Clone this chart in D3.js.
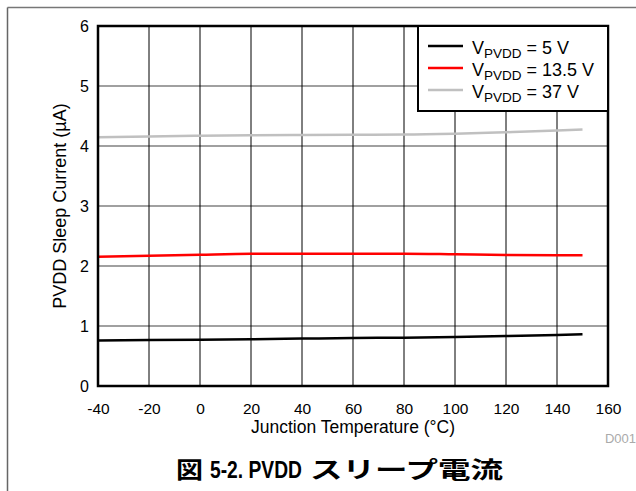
<!DOCTYPE html>
<html><head><meta charset="utf-8">
<script src="https://cdn.jsdelivr.net/npm/d3@7"></script>
<style>body{margin:0;background:#fff}svg{display:block}text{font-family:"Liberation Sans",Arial,sans-serif}</style>
</head><body>
<svg id="c" width="636" height="491"></svg>
<script>
const temps = [-40, -20, 0, 20, 40, 60, 80, 100, 120, 140, 150];
const v5 = [0.76, 0.765, 0.772, 0.78, 0.79, 0.80, 0.806, 0.817, 0.833, 0.85, 0.862];
const v135 = [2.155, 2.17, 2.188, 2.203, 2.205, 2.205, 2.205, 2.195, 2.183, 2.18, 2.18];
const v37 = [4.145, 4.16, 4.17, 4.178, 4.183, 4.187, 4.19, 4.205, 4.23, 4.258, 4.275];
const seriesNames = ["5 V", "13.5 V", "37 V"];
const seriesColors = ["#000000", "#ff0000", "#c0c0c0"];
const xTicks = [-40, -20, 0, 20, 40, 60, 80, 100, 120, 140, 160];
const yTicks = [0, 1, 2, 3, 4, 5, 6];

const svg = d3.select("#c");
const L = 98, R = 608, T = 26, B = 386;
const x = d3.scaleLinear().domain([-40, 160]).range([L, R]);
const y = d3.scaleLinear().domain([0, 6]).range([B, T]);

// outer frame
svg.append("line").attr("x1", 7.5).attr("x2", 636).attr("y1", 7.5).attr("y2", 7.5).attr("stroke", "#777").attr("stroke-width", 1.5);
svg.append("line").attr("x1", 7.5).attr("x2", 7.5).attr("y1", 7.5).attr("y2", 491).attr("stroke", "#666").attr("stroke-width", 1.5);

// grid
svg.append("g").selectAll("line").data(yTicks.slice(1, -1)).join("line")
  .attr("x1", L).attr("x2", R).attr("y1", d => y(d)).attr("y2", d => y(d))
  .attr("stroke", "#808080").attr("stroke-width", 1.5);
svg.append("g").selectAll("line").data(xTicks.slice(1, -1)).join("line")
  .attr("x1", d => x(d)).attr("x2", d => x(d)).attr("y1", T).attr("y2", B)
  .attr("stroke", "#000").attr("stroke-width", 1);

// axes labels via d3 axes
const fmt = d => String(d);
const xAxis = svg.append("g").attr("transform", `translate(0,${B})`)
  .call(d3.axisBottom(x).tickValues(xTicks).tickSize(0).tickPadding(16.5).tickFormat(fmt));
xAxis.select(".domain").remove();
xAxis.selectAll("text").attr("font-size", 15.5).attr("fill", "#000").attr("font-family", "Liberation Sans, Arial, sans-serif");
const yAxis = svg.append("g").attr("transform", `translate(${L},0)`)
  .call(d3.axisLeft(y).tickValues(yTicks).tickSize(0).tickPadding(9).tickFormat(fmt));
yAxis.select(".domain").remove();
yAxis.selectAll("text").attr("font-size", 16).attr("fill", "#000").attr("font-family", "Liberation Sans, Arial, sans-serif");

// lines
const data = [v5, v135, v37];
const line = d3.line().x((d, i) => x(temps[i])).y(d => y(d)).curve(d3.curveMonotoneX);
svg.append("g").selectAll("path").data(data).join("path")
  .attr("d", d => line(d)).attr("fill", "none")
  .attr("stroke", (d, i) => seriesColors[i]).attr("stroke-width", 2.5);

// plot border
svg.append("rect").attr("x", L).attr("y", T).attr("width", R - L).attr("height", B - T)
  .attr("fill", "none").attr("stroke", "#000").attr("stroke-width", 2.5);

// legend
const lg = svg.append("g");
lg.append("rect").attr("x", 418).attr("y", T).attr("width", R - 418).attr("height", 85)
  .attr("fill", "#fff").attr("stroke", "#000").attr("stroke-width", 2);
seriesNames.forEach((n, i) => {
  const yy = 46 + i * 22;
  lg.append("line").attr("x1", 428).attr("x2", 463).attr("y1", yy).attr("y2", yy)
    .attr("stroke", seriesColors[i]).attr("stroke-width", 2.5);
  const t = lg.append("text").attr("x", 472).attr("y", yy + 8).attr("font-size", 18).attr("fill", "#000");
  t.append("tspan").text("V");
  t.append("tspan").attr("font-size", 13.5).attr("dy", 4).text("PVDD");
  t.append("tspan").attr("dy", -4).text(" = " + n);
});

// axis titles
svg.append("text").attr("x", (L + R) / 2).attr("y", 433).attr("text-anchor", "middle")
  .attr("font-size", 17.5).text("Junction Temperature (°C)");
svg.append("text").attr("transform", `translate(66,${(T + B) / 2}) rotate(-90)`).attr("text-anchor", "middle")
  .attr("font-size", 18).text("PVDD Sleep Current (µA)");
svg.append("text").attr("x", 636).attr("y", 443).attr("text-anchor", "end")
  .attr("font-size", 13).attr("fill", "#aaa").text("D001");

// figure caption
const cap = svg.append("text").attr("y", 478).attr("font-weight", "bold");
cap.append("tspan").attr("x", 176).attr("font-size", 23).attr("textLength", 27).attr("lengthAdjust", "spacingAndGlyphs")
  .attr("font-family", "'Noto Sans CJK JP', sans-serif").text("図");
cap.append("tspan").attr("x", 210).attr("font-size", 23).attr("textLength", 92).attr("lengthAdjust", "spacingAndGlyphs")
  .attr("font-family", "'Liberation Sans', Arial, sans-serif").text("5-2. PVDD");
cap.append("tspan").attr("x", 310).attr("font-size", 23).attr("textLength", 193).attr("lengthAdjust", "spacingAndGlyphs")
  .attr("font-family", "'Noto Sans CJK JP', sans-serif").text("スリープ電流");
</script>
</body></html>
